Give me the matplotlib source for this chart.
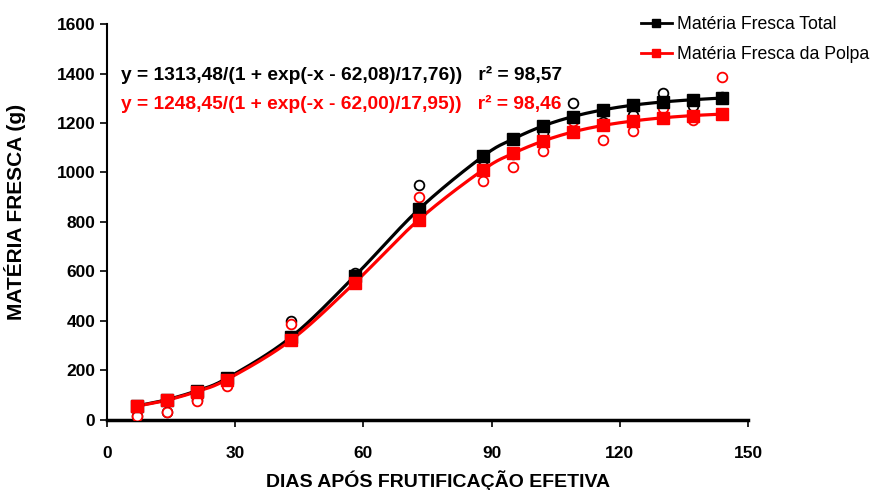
import numpy as np
import matplotlib
matplotlib.use('Agg')
import matplotlib.pyplot as plt
from matplotlib.lines import Line2D

plt.rcParams['font.family'] = ['Liberation Sans', 'DejaVu Sans']

# days after effective fruit set
dias = [7, 14, 21, 28, 43, 58, 73, 88, 95, 102, 109, 116, 123, 130, 137, 144]

# fitted values (squares)
total_ajust = [57, 82, 118, 168, 334, 582, 852, 1066, 1135, 1188, 1226, 1253, 1272, 1285, 1294, 1301]
polpa_ajust = [56, 80, 115, 163, 322, 555, 810, 1011, 1077, 1127, 1164, 1190, 1208, 1221, 1230, 1236]

# observed values (open circles)
total_obs = [16, 32, 82, 142, 401, 595, 949, 1026, 1075, 1158, 1282, 1205, 1232, 1320, 1269, 1305]
polpa_obs = [16, 31, 78, 139, 387, 575, 902, 966, 1021, 1088, 1209, 1131, 1168, 1262, 1212, 1385]

eq_total = 'y = 1313,48/(1 + exp(-x - 62,08)/17,76))   r² = 98,57'
eq_polpa = 'y = 1248,45/(1 + exp(-x - 62,00)/17,95))   r² = 98,46'


def suaviza(x, y, n=20):
    # Catmull-Rom smoothing through the points, like a spreadsheet smoothed line
    x = np.asarray(x, float)
    y = np.asarray(y, float)
    px = np.concatenate([[2 * x[0] - x[1]], x, [2 * x[-1] - x[-2]]])
    py = np.concatenate([[2 * y[0] - y[1]], y, [2 * y[-1] - y[-2]]])
    xs, ys = [], []
    t = np.linspace(0, 1, n, endpoint=False)
    for i in range(1, len(px) - 2):
        for p, out in ((px, xs), (py, ys)):
            p0, p1, p2, p3 = p[i - 1], p[i], p[i + 1], p[i + 2]
            out.extend(0.5 * (2 * p1 + (-p0 + p2) * t
                              + (2 * p0 - 5 * p1 + 4 * p2 - p3) * t ** 2
                              + (-p0 + 3 * p1 - 3 * p2 + p3) * t ** 3))
    xs.append(x[-1])
    ys.append(y[-1])
    return np.array(xs), np.array(ys)


fig = plt.figure(figsize=(8.74, 4.90), dpi=100)
ax = fig.add_axes([0.1224, 0.1429, 0.7336, 0.8081])

ax.plot(dias, total_obs, 'o', ms=7, mfc='white', mec='black', mew=1.3, ls='none', zorder=3)
ax.plot(dias, polpa_obs, 'o', ms=7, mfc='white', mec='red', mew=1.3, ls='none', zorder=3)

xs, ys = suaviza(dias, total_ajust)
ax.plot(xs, ys, color='black', lw=2.3, zorder=4)
ax.plot(dias, total_ajust, 's', ms=8, color='black', ls='none', zorder=5)
xs, ys = suaviza(dias, polpa_ajust)
ax.plot(xs, ys, color='red', lw=2.3, zorder=4)
ax.plot(dias, polpa_ajust, 's', ms=8, color='red', ls='none', zorder=5)

ax.set_xlim(0, 150)
ax.set_ylim(0, 1600)
ax.set_xticks(range(0, 151, 30))
ax.set_yticks(range(0, 1601, 200))
ax.spines['top'].set_visible(False)
ax.spines['right'].set_visible(False)
ax.spines['left'].set_linewidth(1.5)
ax.spines['bottom'].set_linewidth(2.5)
ax.tick_params(axis='both', direction='out', length=5, width=1.2, labelsize=12.5)
for lab in ax.get_xticklabels() + ax.get_yticklabels():
    lab.set_fontweight('bold')
ax.tick_params(axis='x', pad=14)

ax.set_xlabel('DIAS APÓS FRUTIFICAÇÃO EFETIVA', fontsize=14, fontweight='bold')
ax.set_ylabel('MATÉRIA FRESCA (g)', fontsize=15, fontweight='bold')
ax.xaxis.set_label_coords(0.516, -0.128)
ax.yaxis.set_label_coords(-0.126, 0.525)

ax.text(0.139, 0.847, eq_total, transform=fig.transFigure, fontsize=13.8, fontweight='bold',
        color='black', va='center')
ax.text(0.139, 0.788, eq_polpa, transform=fig.transFigure, fontsize=13.8, fontweight='bold',
        color='red', va='center')

handles = [Line2D([], [], color='black', lw=2, marker='s', ms=6),
           Line2D([], [], color='red', lw=2, marker='s', ms=6)]
fig.legend(handles, ['Matéria Fresca Total', 'Matéria Fresca da Polpa'],
           loc='upper left', bbox_to_anchor=(641 / 874, 0.967), frameon=False,
           borderpad=0, borderaxespad=0,
           fontsize=12.7, handlelength=1.75, handletextpad=0.3, labelspacing=0.75)

fig.savefig('out.png', dpi=100)
